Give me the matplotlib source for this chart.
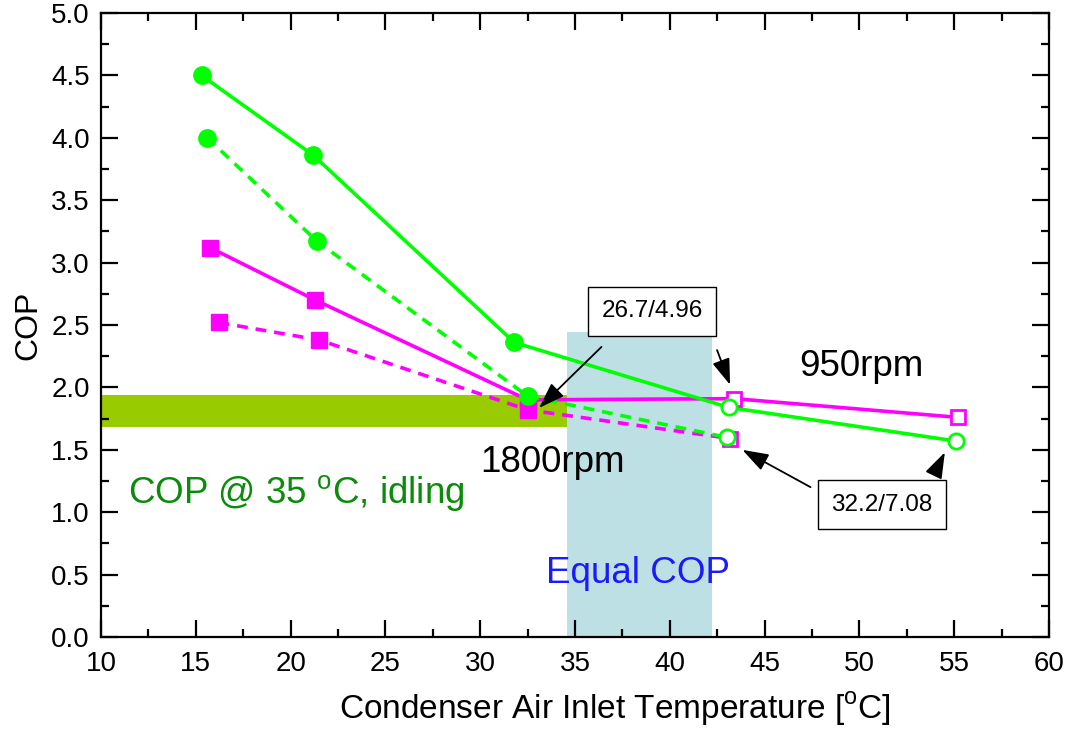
import matplotlib
matplotlib.use("Agg")
import matplotlib.pyplot as plt
from matplotlib.ticker import MultipleLocator

plt.rcParams['font.family'] = ['Liberation Sans', 'DejaVu Sans']

# Green, solid (filled then open markers)
g1_x_filled = [15.3, 21.2, 31.8]
g1_y_filled = [4.50, 3.86, 2.36]
g1_x_open = [43.1, 55.1]
g1_y_open = [1.84, 1.57]

# Green, dashed
g2_x_filled = [15.6, 21.4, 32.5]
g2_y_filled = [4.00, 3.17, 1.93]
g2_x_open = [43.0]
g2_y_open = [1.60]

# Magenta, solid
m1_x_filled = [15.75, 21.3, 32.5]
m1_y_filled = [3.12, 2.70, 1.90]
m1_x_open = [43.4, 55.2]
m1_y_open = [1.91, 1.76]

# Magenta, dashed
m2_x_filled = [16.2, 21.5, 32.5]
m2_y_filled = [2.52, 2.38, 1.82]
m2_x_open = [43.2]
m2_y_open = [1.59]

# shaded regions
idle_band_x = [10, 34.6]
idle_band_y = [1.68, 1.94]
equal_band_x = [34.6, 42.2]
equal_band_y = [0, 2.44]

fig = plt.figure(figsize=(10.69, 7.30), dpi=100)
ax = fig.add_axes([0.0945, 0.1274, 0.8868, 0.8548])

ax.fill_between(idle_band_x, idle_band_y[0], idle_band_y[1], color='#99cc00', lw=0, zorder=1)
ax.fill_between(equal_band_x, equal_band_y[0], equal_band_y[1], color='#bde0e4', lw=0, zorder=1)

GREEN = '#00ff00'
MAG = '#ff00ff'
lw = 2.6


def series(xf, yf, xo, yo, color, ls, marker):
    ax.plot(xf + xo, yf + yo, color=color, ls=ls, lw=lw, zorder=3,
            dashes=(3, 2.2) if ls == '--' else (None, None))
    ax.plot(xf, yf, ls='none', marker=marker, ms=12.5 if marker == 'o' else 12,
            mfc=color, mec=color, zorder=4)
    ax.plot(xo, yo, ls='none', marker=marker, ms=11 if marker == 'o' else 10.5,
            mfc='white', mec=color, mew=2, zorder=4)


series(m2_x_filled, m2_y_filled, m2_x_open, m2_y_open, MAG, '--', 's')
series(m1_x_filled, m1_y_filled, m1_x_open, m1_y_open, MAG, '-', 's')
series(g2_x_filled, g2_y_filled, g2_x_open, g2_y_open, GREEN, '--', 'o')
series(g1_x_filled, g1_y_filled, g1_x_open, g1_y_open, GREEN, '-', 'o')

ax.set_xlim(10, 60)
ax.set_ylim(0, 5.0)
ax.xaxis.set_major_locator(MultipleLocator(5))
ax.xaxis.set_minor_locator(MultipleLocator(2.5))
ax.yaxis.set_major_locator(MultipleLocator(0.5))
ax.yaxis.set_minor_locator(MultipleLocator(0.25))
ax.yaxis.set_major_formatter(matplotlib.ticker.FormatStrFormatter('%.1f'))
ax.tick_params(which='both', direction='in', top=True, right=True, labelsize=20, width=1.6)
ax.tick_params(which='major', length=12)
ax.tick_params(which='minor', length=6)
ax.tick_params(axis='x', pad=10)
ax.tick_params(axis='y', pad=8)
for s in ax.spines.values():
    s.set_linewidth(1.6)

ax.set_xlabel('Condenser Air Inlet Temperature [$^{\\mathregular{o}}$C]', fontsize=24)
ax.xaxis.set_label_coords(0.542, -0.085)
ax.set_ylabel('COP', fontsize=23, labelpad=6)

ax.text(11.4, 1.15, 'COP @ 35 $^{\\mathregular{o}}$C, idling', color='#0a8c0a', fontsize=26.5,
        ha='left', va='center')
ax.text(38.3, 0.51, 'Equal COP', color='#1a1aff', fontsize=26.5, ha='center', va='center')
ax.text(30.0, 1.40, '1800rpm', color='black', fontsize=26.5, ha='left', va='center')
ax.text(50.1, 2.17, '950rpm', color='black', fontsize=26.5, ha='center', va='center')

bbox = dict(boxstyle='square,pad=0.55', fc='white', ec='black', lw=1)
arrow = dict(arrowstyle='-|>,head_length=1.6,head_width=0.55', color='black', lw=1.3)
ax.text(39.06, 2.61, '26.7/4.96', fontsize=17.5, ha='center', va='center', bbox=bbox, zorder=6)
ax.annotate('', xy=(33.0, 1.82), xytext=(36.5, 2.34), arrowprops=arrow, zorder=6)
ax.annotate('', xy=(43.23, 2.0), xytext=(42.44, 2.32), arrowprops=arrow, zorder=6)
ax.text(51.2, 1.06, '32.2/7.08', fontsize=17.5, ha='center', va='center', bbox=bbox, zorder=6)
ax.annotate('', xy=(43.7, 1.51), xytext=(47.55, 1.19), arrowprops=arrow, zorder=6)
ax.annotate('', xy=(54.57, 1.50), xytext=(53.93, 1.30), arrowprops=arrow, zorder=6)

fig.savefig('out.png', dpi=100)
